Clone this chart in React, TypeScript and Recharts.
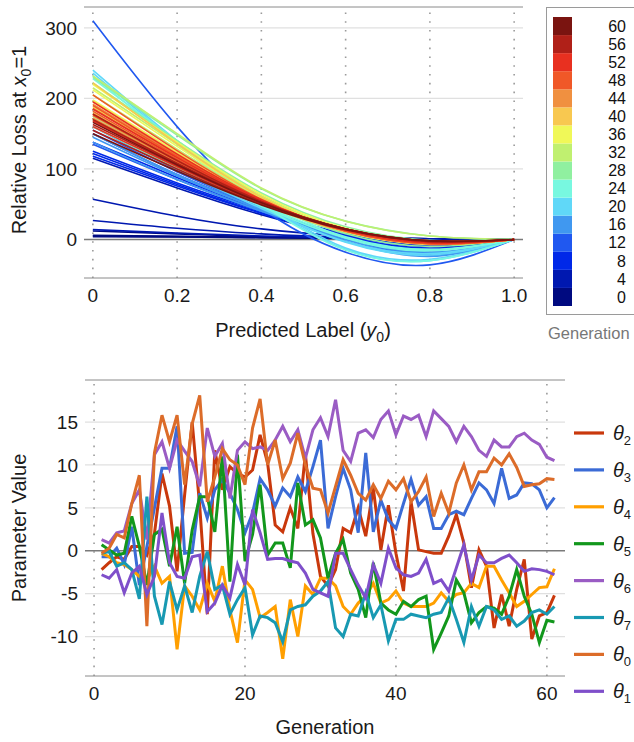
import React from "react";
import { LineChart, Line, BarChart, Bar, XAxis, YAxis, ReferenceLine } from "recharts";

const FONT = '"Liberation Sans", Arial, Helvetica, sans-serif';

// ---------- top chart: relative loss curves, one per generation ----------
const lossX = [0, 0.2, 0.4, 0.6, 0.8, 1.0];
const lossTicks = [0, 0.2, 0.4, 0.6, 0.8, 1.0];
const lossTickLabels = ["0", "0.2", "0.4", "0.6", "0.8", "1.0"];
const lossYTicks = [0, 100, 200, 300];

// values at lossX for generations 0..61
const lossCurves: number[][] = [
  [4, 3.5, 2.5, 1.5, 0.7, 0],
  [5, 4, 3, 2, 1, 0],
  [6, 4.5, 3, 2, 1, 0],
  [12, 8, 4, 2, 0.5, 0],
  [14, 9, 5, 2, 0.5, 0],
  [27, 16, 8, 3, 1, 0],
  [57, 33, 15, 5, 1, 0],
  [115, 73, 35, 6, -8, 0],
  [122, 78, 38, 6, -10, 0],
  [125, 80, 40, 8, -8, 0],
  [138, 88, 42, 5, -14, 0],
  [118, 76, 37, 4, -12, 0],
  [310, 160, 45, -18, -36, 0],
  [150, 92, 44, 3, -20, 0],
  [135, 85, 40, 2, -18, 0],
  [155, 96, 45, 2, -22, 0],
  [145, 90, 42, 2, -20, 0],
  [160, 98, 44, 0, -22, 0],
  [138, 85, 40, 2, -18, 0],
  [150, 92, 42, -2, -24, 0],
  [240, 140, 55, -12, -28, 0],
  [236, 138, 52, -14, -30, 0],
  [175, 108, 46, -4, -22, 0],
  [160, 100, 44, -3, -20, 0],
  [232, 135, 50, -15, -30, 0],
  [228, 140, 60, 2, -16, 0],
  [180, 112, 50, 4, -14, 0],
  [170, 105, 47, 2, -15, 0],
  [230, 148, 72, 26, 5, 0],
  [222, 140, 66, 18, -1, 0],
  [185, 118, 55, 8, -10, 0],
  [160, 102, 50, 10, -6, 0],
  [232, 150, 73, 26, 5, 0],
  [215, 135, 62, 14, -4, 0],
  [205, 128, 58, 12, -6, 0],
  [175, 110, 52, 12, -6, 0],
  [220, 138, 64, 16, -3, 0],
  [212, 132, 60, 13, -5, 0],
  [198, 124, 57, 12, -6, 0],
  [188, 118, 55, 12, -6, 0],
  [222, 136, 60, 12, -6, 0],
  [196, 122, 56, 11, -7, 0],
  [180, 113, 53, 11, -7, 0],
  [170, 108, 51, 11, -6, 0],
  [192, 120, 56, 13, -5, 0],
  [186, 116, 54, 12, -6, 0],
  [178, 112, 53, 12, -6, 0],
  [172, 109, 52, 12, -5, 0],
  [205, 126, 57, 12, -6, 0],
  [190, 118, 55, 12, -6, 0],
  [182, 114, 54, 13, -5, 0],
  [176, 111, 53, 13, -5, 0],
  [195, 121, 56, 13, -5, 0],
  [185, 116, 55, 14, -4, 0],
  [168, 107, 52, 14, -4, 0],
  [160, 103, 51, 14, -3, 0],
  [178, 112, 54, 15, -3, 0],
  [170, 108, 53, 15, -3, 0],
  [163, 105, 52, 15, -2, 0],
  [155, 100, 50, 15, -2, 0],
  [166, 106, 52, 15, -2, 0],
  [150, 97, 49, 14, -2, 0],
];

// colour bar bins (generation start of each bin)
const genBins = [0, 4, 8, 12, 16, 20, 24, 28, 32, 36, 40, 44, 48, 52, 56, 60];
const genColors = [
  "#000a80", "#0018b0", "#0028e8", "#2058f0", "#4098f0", "#60d8f8", "#78f8e0", "#90f0a0",
  "#c0f070", "#f0f858", "#f8c850", "#f09040", "#f05828", "#e83020", "#b02018", "#7a1410",
];
const binWidth = 4;

// ---------- bottom chart: parameter values per generation ----------
const generations = [
  1, 2, 3, 4, 5, 6, 7, 8, 9, 10, 11, 12, 13, 14, 15, 16, 17, 18, 19, 20,
  21, 22, 23, 24, 25, 26, 27, 28, 29, 30, 31, 32, 33, 34, 35, 36, 37, 38, 39, 40,
  41, 42, 43, 44, 45, 46, 47, 48, 49, 50, 51, 52, 53, 54, 55, 56, 57, 58, 59, 60, 61,
];
const theta2 = [
  -2.2, -1.4, -0.7, -1.0, 0.5, 0.5, -0.5, 2.0, 9.0, 5.2, -2.4, 6.5, 15.0, 5.2, -7.4, 11.7, 7.1, 9.8, 9.0, 8.6,
  9.4, 13.5, 10.2, 3.0, 2.2, 5.0, 2.6, 11.3, 2.0, -3.0, -4.1, -2.2, 2.6, 2.1, 5.0, 1.7, 7.3, 0.1, 5.3, -0.3,
  -4.7, 5.7, 0.1, -0.1, -0.3, -0.3, 1.7, 4.2, 0.9, -4.3, 0.1, -1.8, -9.0, -5.1, -8.8, -4.5, -1.0, -10.3, -7.6, -7.2, -5.2,
];
const theta3 = [
  -0.7, -0.7, 0.3, -1.6, 2.8, -4.0, 0.5, 5.0, 9.6, 9.6, 14.5, -0.3, -0.2, 6.7, 3.8, 7.1, 8.3, 6.7, 4.8, 2.1,
  4.4, 8.4, 7.1, 5.2, 7.3, 6.3, 8.6, 6.9, 9.8, 12.9, 2.6, 6.3, 9.6, 7.1, 2.1, 11.4, 2.2, 5.9, 3.6, 2.6,
  5.5, 8.3, 5.3, 6.3, 2.6, 2.6, 4.2, 4.6, 4.2, 6.1, 7.9, 7.1, 5.5, 9.6, 6.1, 6.5, 7.9, 7.8, 7.1, 5.0, 6.2,
];
const theta4 = [
  -0.3, -0.7, -1.4, -1.6, -2.2, -3.0, -3.4, -1.8, -3.8, -3.0, -11.5, -4.1, -5.3, -6.9, -3.8, -5.9, -1.8, -6.9, -10.7, -3.4,
  -4.5, -7.8, -7.2, -6.5, -12.6, -5.7, -10.0, -4.1, -5.1, -3.2, -3.2, -4.1, -6.5, -7.4, -6.1, -5.3, -3.8, -6.1, -5.7, -4.7,
  -6.1, -6.5, -6.5, -6.5, -6.1, -4.9, -5.9, -5.1, -4.9, -3.8, -4.3, -1.8, -1.8, -3.4, -4.9, -6.5, -5.9, -5.1, -4.3, -4.2, -2.1,
];
const theta5 = [
  0.7, 0.1, -0.5, -0.3, 4.0, 0.5, -4.0, 1.9, 2.5, -1.8, 2.8, -3.8, 2.4, 6.3, 6.3, 2.2, 11.0, -3.6, 11.2, -1.2,
  1.9, 7.7, -0.5, 0.9, 0.9, -2.0, 7.9, 3.0, 3.6, 1.5, -3.2, -0.3, 1.3, -2.6, -4.5, -7.8, -1.4, -6.1, -6.9, -7.4,
  -5.9, -6.5, -5.7, -5.3, -11.5, -9.6, -7.6, -3.4, -4.9, -8.4, -7.2, -6.5, -6.7, -7.4, -5.3, -2.2, -5.3, -7.4, -10.7, -8.1, -8.3,
];
const theta6 = [
  1.3, 0.9, 2.1, 2.3, 5.5, 7.1, 1.3, 11.2, 12.7, 9.6, 12.9, 11.6, 10.4, 7.5, 14.3, 11.0, 12.5, 6.1, 11.7, 12.7,
  11.9, 12.1, 11.7, 12.9, 14.5, 12.7, 14.1, 10.8, 14.1, 15.5, 13.3, 17.6, 11.7, 10.4, 13.7, 14.1, 13.2, 15.3, 16.3, 13.5,
  15.7, 15.3, 15.8, 13.3, 16.3, 15.4, 14.5, 12.7, 14.5, 13.3, 11.7, 11.0, 12.9, 12.1, 12.1, 13.3, 13.7, 12.9, 12.4, 10.9, 10.5,
];
const theta7 = [
  -0.3, -0.1, -1.8, -1.4, -2.2, -5.6, 6.3, -5.3, -8.6, -3.6, -6.9, -4.1, -7.2, -3.0, -0.1, -4.5, -4.0, -7.4, -5.7, -4.3,
  -9.8, -7.6, -7.8, -8.4, -10.6, -6.9, -6.5, -6.3, -5.3, -4.7, -3.6, -9.0, -10.0, -7.4, -7.6, -4.9, -7.8, -6.3, -10.5, -8.0,
  -8.0, -7.4, -7.6, -7.8, -7.4, -7.2, -5.5, -8.0, -10.7, -6.5, -8.8, -6.5, -6.9, -8.0, -7.6, -8.8, -8.2, -7.2, -6.9, -7.4, -6.5,
];
const theta0 = [
  -0.3, 0.3, 1.9, 1.5, 5.5, 8.8, -8.8, 11.4, 15.8, 12.7, 15.8, 7.7, 14.8, 18.1, 5.7, 8.6, 11.9, 10.6, 10.0, 7.7,
  14.3, 17.7, 10.0, 12.9, 8.4, 10.2, 13.7, 10.0, 7.3, 7.1, 4.4, 7.5, 10.6, 8.8, 6.7, 5.9, 7.7, 6.1, 8.1, 7.1,
  8.4, 5.7, 6.9, 8.6, 4.0, 6.7, 4.4, 7.9, 10.0, 7.1, 9.2, 9.2, 10.8, 10.0, 11.3, 9.7, 7.5, 7.7, 7.8, 8.4, 8.3,
];
const theta1 = [
  -2.8, -3.2, -2.2, -4.9, -2.6, -1.8, -5.1, -3.0, 4.4, -1.4, -3.0, -3.2, -0.7, -0.5, -7.1, -6.1, -4.0, -5.5, -1.6, -4.0,
  4.8, 2.1, -1.0, -0.9, -0.9, -1.2, -1.4, -2.6, -4.5, -4.9, -5.3, -0.3, -0.3, -2.2, -4.0, -5.5, -1.6, -3.8, 0.3, -2.0,
  -2.8, -3.0, -2.6, -1.0, -3.8, -3.4, -4.7, -2.0, 0.7, -3.4, -0.5, -1.4, -1.4, -0.9, -0.5, -1.4, -2.4, -2.1, -2.2, -2.4, -2.8,
];
const genTicks = [0, 20, 40, 60];
const paramTicks = [-10, -5, 0, 5, 10, 15];

const paramSeries = [
  { key: "t2", sub: "2", color: "#c9380c", values: theta2 },
  { key: "t3", sub: "3", color: "#3b6bd6", values: theta3 },
  { key: "t4", sub: "4", color: "#ff9f00", values: theta4 },
  { key: "t5", sub: "5", color: "#12971c", values: theta5 },
  { key: "t6", sub: "6", color: "#9a5cc4", values: theta6 },
  { key: "t7", sub: "7", color: "#1899b2", values: theta7 },
  { key: "t0", sub: "0", color: "#dc6c29", values: theta0 },
  { key: "t1", sub: "1", color: "#7f4fca", values: theta1 },
];

// ---------- tables for the library ----------
const lossData = lossX.map((x, i) => {
  const row: Record<string, number> = { x };
  lossCurves.forEach((c, g) => {
    row["c" + g] = c[i];
  });
  return row;
});

const paramData = generations.map((gen, i) => {
  const row: Record<string, number> = { gen };
  paramSeries.forEach((s) => {
    row[s.key] = s.values[i];
  });
  return row;
});

const binRow = [
  genBins.reduce((row: Record<string, number | string>, _b, i) => {
    row["b" + i] = binWidth;
    return row;
  }, { name: "Generation" }),
];

const genColor = (g: number) => genColors[Math.min(genColors.length - 1, Math.floor(g / binWidth))];

const tickStyle = { fontSize: 19, fill: "#1a1a1a", fontFamily: FONT };
const GRID = "#e0e0e0";
const DOTS = "#9a9a9a";
const FRAME = "#8a8a8a";

const LOSS_XDOM: [number, number] = [-0.021, 1.021];
const LOSS_YDOM: [number, number] = [-54.6, 329.6];
const GEN_XDOM: [number, number] = [-1.2, 62.4];
const PAR_YDOM: [number, number] = [-14.6, 19.9];

function hTitle(cx: number, cy: number, parts: React.ReactNode) {
  return () => (
    <text x={cx} y={cy + 7} textAnchor="middle" fontSize={20} fill="#1a1a1a" fontFamily={FONT}>
      {parts}
    </text>
  );
}

function vTitle(cx: number, cy: number, parts: React.ReactNode) {
  return () => (
    <text
      x={cx}
      y={cy + 7}
      transform={`rotate(-90 ${cx} ${cy})`}
      textAnchor="middle"
      fontSize={20}
      fill="#1a1a1a"
      fontFamily={FONT}
    >
      {parts}
    </text>
  );
}

function LossChart() {
  return (
    <LineChart width={540} height={345} data={lossData} margin={{ top: 7, right: 17, bottom: 0, left: 0 }}>
      {lossYTicks
        .filter((v) => v !== 0)
        .map((v) => (
          <ReferenceLine key={"h" + v} y={v} stroke={GRID} strokeWidth={1.2} />
        ))}
      {lossTicks.map((v) => (
        <ReferenceLine key={"v" + v} x={v} stroke={DOTS} strokeWidth={1.6} strokeDasharray="1.6 7.2" />
      ))}
      <ReferenceLine y={LOSS_YDOM[1]} stroke={FRAME} />
      <XAxis
        type="number"
        dataKey="x"
        domain={LOSS_XDOM}
        ticks={lossTicks}
        interval={0}
        tickFormatter={(v: number) => lossTickLabels[lossTicks.indexOf(v)] ?? String(v)}
        height={67}
        tickLine={false}
        tickSize={0}
        tickMargin={11}
        axisLine={{ stroke: FRAME }}
        tick={tickStyle}
        label={hTitle(303, 330, (
          <>
            Predicted Label (<tspan fontStyle="italic">y</tspan>
            <tspan fontSize={14} dy={5}>0</tspan>
            <tspan dy={-5}>)</tspan>
          </>
        ))}
      />
      <YAxis
        type="number"
        domain={LOSS_YDOM}
        ticks={lossYTicks}
        interval={0}
        width={84}
        axisLine={false}
        tickLine={false}
        tickSize={0}
        tickMargin={7}
        tick={tickStyle}
        label={vTitle(19, 140, (
          <>
            Relative Loss at <tspan fontStyle="italic">x</tspan>
            <tspan fontSize={14} dy={5}>0</tspan>
            <tspan dy={-5}>=1</tspan>
          </>
        ))}
      />
      <ReferenceLine y={0} stroke="#7a7a7a" strokeWidth={1.3} />
      {lossCurves.map((_c, g) => (
        <Line
          key={g}
          dataKey={"c" + g}
          type="natural"
          stroke={genColor(g)}
          strokeWidth={1.6}
          dot={false}
          activeDot={false}
          isAnimationActive={false}
        />
      ))}
    </LineChart>
  );
}

function ColorBar() {
  return (
    <>
      <div
        style={{
          position: "absolute",
          left: 546,
          top: 7,
          width: 100,
          height: 308,
          border: "1px solid #9a9a9a",
          boxSizing: "border-box",
        }}
      />
      <div style={{ position: "absolute", left: 545, top: 0 }}>
        <BarChart width={89} height={330} data={binRow} margin={{ top: 17, right: 0, bottom: 24, left: 8 }} barCategoryGap={0}>
          <XAxis dataKey="name" hide />
          <YAxis
            orientation="right"
            type="number"
            domain={[0, genBins.length * binWidth]}
            ticks={genBins.map((b) => b + binWidth / 2)}
            interval={0}
            tickFormatter={(v: number) => String(v - binWidth / 2)}
            width={62}
            axisLine={false}
            tickLine={false}
            tickSize={0}
            tickMargin={54}
            tick={{ fontSize: 16, fill: "#111", fontFamily: FONT, textAnchor: "end" }}
          />
          {genBins.map((b, i) => (
            <Bar key={b} dataKey={"b" + i} stackId="gen" fill={genColors[i]} isAnimationActive={false} />
          ))}
        </BarChart>
      </div>
      <div
        style={{
          position: "absolute",
          left: 548,
          top: 322,
          fontSize: 16.5,
          lineHeight: "22px",
          color: "#777",
          fontFamily: FONT,
          whiteSpace: "nowrap",
        }}
      >
        Generation
      </div>
    </>
  );
}

function ParamChart() {
  return (
    <LineChart width={570} height={372} data={paramData} margin={{ top: 10, right: 5, bottom: 0, left: 0 }}>
      {paramTicks
        .filter((v) => v !== 0)
        .map((v) => (
          <ReferenceLine key={"h" + v} y={v} stroke={GRID} strokeWidth={1.2} />
        ))}
      {genTicks.map((v) => (
        <ReferenceLine key={"v" + v} x={v} stroke={DOTS} strokeWidth={1.6} strokeDasharray="1.6 7.2" />
      ))}
      <ReferenceLine y={PAR_YDOM[1]} stroke={FRAME} />
      <XAxis
        type="number"
        dataKey="gen"
        domain={GEN_XDOM}
        ticks={genTicks}
        interval={0}
        height={66}
        tickLine={false}
        tickSize={0}
        tickMargin={11}
        axisLine={{ stroke: FRAME }}
        tick={tickStyle}
        label={hTitle(325, 357, "Generation")}
      />
      <YAxis
        type="number"
        domain={PAR_YDOM}
        ticks={paramTicks}
        interval={0}
        width={85}
        axisLine={false}
        tickLine={false}
        tickSize={0}
        tickMargin={7}
        tick={tickStyle}
        label={vTitle(19, 158, "Parameter Value")}
      />
      <ReferenceLine y={0} stroke="#7a7a7a" strokeWidth={1.3} />
      {paramSeries.map((s) => (
        <Line
          key={s.key}
          dataKey={s.key}
          type="linear"
          stroke={s.color}
          strokeWidth={3}
          dot={false}
          activeDot={false}
          isAnimationActive={false}
        />
      ))}
    </LineChart>
  );
}

function ParamLegend() {
  return (
    <svg style={{ position: "absolute", left: 570, top: 410 }} width={64} height={300}>
      {paramSeries.map((s, i) => {
        const y = 23 + 36.9 * i;
        return (
          <g key={s.key}>
            <line x1={4} x2={34} y1={y} y2={y} stroke={s.color} strokeWidth={3.2} />
            <text x={43} y={y + 7} fontSize={20} fill="#1a1a1a" fontFamily={FONT}>
              <tspan fontStyle="italic">θ</tspan>
              <tspan fontSize={13} dy={5}>
                {s.sub}
              </tspan>
            </text>
          </g>
        );
      })}
    </svg>
  );
}

export default function App() {
  return (
    <div
      style={{
        position: "absolute",
        left: 0,
        top: 0,
        width: 634,
        height: 742,
        overflow: "hidden",
        background: "#fff",
        fontFamily: FONT,
      }}
    >
      <div style={{ position: "absolute", left: 0, top: 0 }}>
        <LossChart />
      </div>
      <ColorBar />
      <div style={{ position: "absolute", left: 0, top: 370 }}>
        <ParamChart />
      </div>
      <ParamLegend />
    </div>
  );
}
